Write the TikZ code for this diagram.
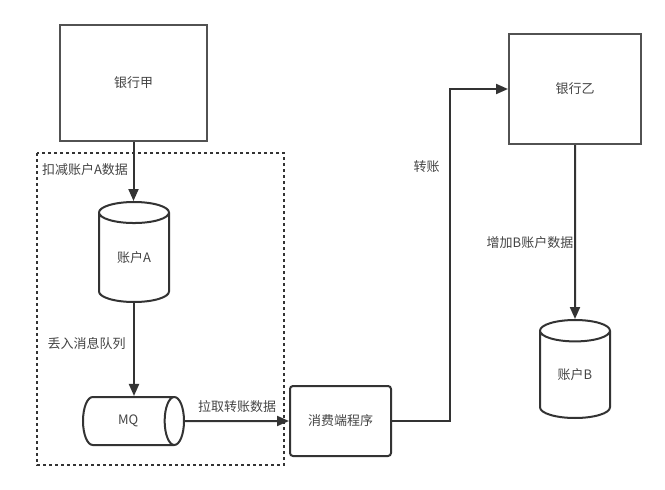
\documentclass[tikz,border=0pt]{standalone}
\usepackage{fontspec}
\setmainfont{Noto Sans CJK SC}
\usetikzlibrary{shapes.geometric,arrows.meta}
\definecolor{linegray}{HTML}{333333}
\definecolor{textgray}{HTML}{444444}
\tikzset{
  bank/.style={draw=linegray!85, line width=2pt, minimum width=#1},
  db/.style={cylinder, shape border rotate=90, draw=linegray, line width=2pt, aspect=0.62, inner sep=0pt, anchor=shape center},
  arr/.style={-{Triangle[length=12pt,width=10pt]}, draw=linegray, line width=2pt},
  lbl/.style={text=textgray}
}
\begin{document}
\begin{tikzpicture}[x=1pt, y=-1pt, font=\fontsize{13}{16}\selectfont, text=textgray]
\useasboundingbox (0,0) rectangle (665,490);

\node (bankA) at (133.5,82.5) [bank=147pt, minimum height=116pt]{银行甲};
\node (bankB) at (575,89) [bank=132pt, minimum height=110pt]{银行乙};

\draw [linegray, line width=2pt, dash pattern=on 3pt off 3pt] (37,153) rectangle (284,465);
\node (groupA) at (85,170) [lbl]{扣减账户A数据};

\node (accA) at (134,252) [db, minimum width=70pt, minimum height=100pt]{账户A};
\node (mq) at (133.5,421) [db, shape border rotate=0, minimum width=48pt, minimum height=101pt, aspect=1.6]{MQ};
\node (consumer) at (340.5,421) [draw=linegray, line width=2pt, rounded corners=3pt, minimum width=101pt, minimum height=70pt]{消费端程序};
\node (accB) at (575,369) [db, minimum width=70pt, minimum height=98pt]{账户B};

\coordinate (bend) at (450,421);

\draw [arr] (bankA.south) -- (bankA.south |- accA.north);
\draw [arr] (accA.south) -- node[lbl, pos=0.44, left=4pt]{丢入消息队列} (accA.south |- mq.north);
\draw [arr] (mq) -- node[lbl, above=4pt]{拉取转账数据} (consumer);
\draw [arr] (consumer.east) -- (bend) |- (bankB.west);
\node (moveLbl) at (426.5,167) [lbl]{转账};
\draw [arr] (bankB) -- (accB);
\node (addLbl) at (530,243) [lbl]{增加B账户数据};

\end{tikzpicture}
\end{document}
